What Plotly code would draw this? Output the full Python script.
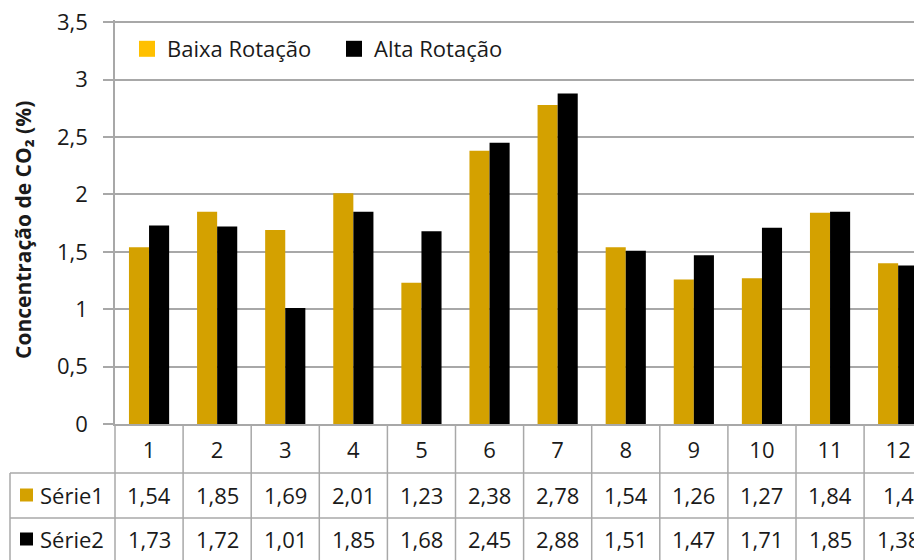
import plotly.graph_objects as go

# ---------------- data ----------------
categories = ["1", "2", "3", "4", "5", "6", "7", "8", "9", "10", "11", "12"]
baixa_rotacao = [1.54, 1.85, 1.69, 2.01, 1.23, 2.38, 2.78, 1.54, 1.26, 1.27, 1.84, 1.4]
alta_rotacao = [1.73, 1.72, 1.01, 1.85, 1.68, 2.45, 2.88, 1.51, 1.47, 1.71, 1.85, 1.38]
series_names = ["Baixa Rotação", "Alta Rotação"]
table_row_labels = ["Série1", "Série2"]
y_tick_values = [0, 0.5, 1, 1.5, 2, 2.5, 3, 3.5]
y_tick_labels = ["0", "0,5", "1", "1,5", "2", "2,5", "3", "3,5"]
y_title = "Concentração de CO₂ (%)"

# ---------------- style ----------------
FONT = "Open Sans"
GOLD = "#D4A100"
GOLD_LEGEND = "#FFC000"
BLACK = "#000000"
GRID = "#A8A8A8"
TEXT = "#1a1a1a"

# page body has an 8px margin: figure is drawn 8px right/down of page origin
OFF = 8
W, H = 922 - OFF, 560 - OFF
L, R, T, B = 115 - OFF, 0, 12, 136
PW, PH = W - L - R, H - T - B
Y_TOP = 3.52  # a hair above 3.5 so the top grid line is kept


def px_x(px):  # page pixel -> paper
    return (px - 115) / PW


def px_y(py):  # page pixel -> paper
    return (424 - py) / PH


fig = go.Figure()

fig.add_trace(go.Bar(x=categories, y=baixa_rotacao, marker=dict(color=GOLD, line=dict(width=0)),
                     name=series_names[0], showlegend=False))
fig.add_trace(go.Bar(x=categories, y=alta_rotacao, marker=dict(color=BLACK, line=dict(width=0)),
                     name=series_names[1], showlegend=False))

# legend entries
for nm, col in zip(series_names, [GOLD_LEGEND, BLACK]):
    fig.add_trace(go.Scatter(x=[None], y=[None], mode="markers", name=nm,
                             marker=dict(symbol="square", size=16, color=col)))

shapes = []
annotations = []

# data table: vertical lines between categories
n = len(categories)
for k in range(1, n + 1):
    shapes.append(dict(type="line", xref="x", yref="paper", x0=k - 0.5, x1=k - 0.5,
                       y0=px_y(424), y1=px_y(565), line=dict(color=GRID, width=1.5)))
# left edge of category columns
shapes.append(dict(type="line", xref="paper", yref="paper", x0=0, x1=0,
                   y0=px_y(424), y1=px_y(565), line=dict(color=GRID, width=1.5)))
# far left border of series label column
shapes.append(dict(type="line", xref="paper", yref="paper", x0=px_x(10), x1=px_x(10),
                   y0=px_y(473), y1=px_y(565), line=dict(color=GRID, width=1.5)))
# horizontal row lines
for py in [473, 518]:
    shapes.append(dict(type="line", xref="paper", yref="paper", x0=px_x(10), x1=1,
                       y0=px_y(py), y1=px_y(py), line=dict(color=GRID, width=1.5)))

# table values
row_centers = [495, 539]
for vals, yc in zip([baixa_rotacao, alta_rotacao], row_centers):
    for i, v in enumerate(vals):
        annotations.append(dict(x=i, y=px_y(yc), xref="x", yref="paper",
                                text=("%g" % v).replace(".", ","), showarrow=False,
                                xanchor="center", yanchor="middle",
                                font=dict(family=FONT, size=22, color=TEXT)))

# row labels with keys
for lab, col, yc in zip(table_row_labels, [GOLD, BLACK], row_centers):
    annotations.append(dict(x=px_x(38), y=px_y(yc), xref="paper", yref="paper",
                            text=lab, showarrow=False, xanchor="left", yanchor="middle",
                            font=dict(family=FONT, size=22, color=TEXT)))
    shapes.append(dict(type="rect", xref="paper", yref="paper",
                       x0=px_x(20), x1=px_x(33), y0=px_y(yc + 6.5), y1=px_y(yc - 6.5),
                       fillcolor=col, line=dict(width=0)))

# y axis title
annotations.append(dict(x=px_x(23), y=px_y(230), xref="paper", yref="paper",
                        text="<b>" + y_title + "</b>", textangle=-90, showarrow=False,
                        xanchor="center", yanchor="middle",
                        font=dict(family=FONT, size=21, color=TEXT)))

fig.update_layout(
    width=W, height=H,
    margin=dict(l=L, r=R, t=T, b=B, autoexpand=False),
    paper_bgcolor="white", plot_bgcolor="white",
    barmode="group", bargap=0.41, bargroupgap=0,
    separators=",.",
    font=dict(family=FONT, size=21, color=TEXT),
    showlegend=True,
    legend=dict(orientation="h", x=px_x(127), y=px_y(49), xanchor="left", yanchor="middle",
                bgcolor="rgba(0,0,0,0)", borderwidth=0, entrywidth=162, entrywidthmode="pixels",
                font=dict(family=FONT, size=22, color=TEXT), itemclick=False),
    shapes=shapes,
    annotations=annotations,
)

fig.update_xaxes(
    type="category", categoryorder="array", categoryarray=categories,
    range=[-0.5, -0.5 + PW / 68.1],
    showgrid=False, showline=True, linecolor=GRID, linewidth=1.5,
    ticks="", tickfont=dict(family=FONT, size=22, color=TEXT),
    ticklabelstandoff=6, zeroline=False, fixedrange=True,
)
fig.update_yaxes(
    range=[0, Y_TOP], tickvals=y_tick_values, ticktext=y_tick_labels,
    showgrid=True, gridcolor=GRID, gridwidth=1.5,
    showline=True, linecolor=GRID, linewidth=1.5,
    ticks="outside", ticklen=10, tickcolor=GRID, tickwidth=1.5,
    ticklabelstandoff=11, ticklabeloverflow="allow",
    tickfont=dict(family=FONT, size=22, color=TEXT),
    zeroline=False, fixedrange=True,
)

fig.write_html("out.html")
